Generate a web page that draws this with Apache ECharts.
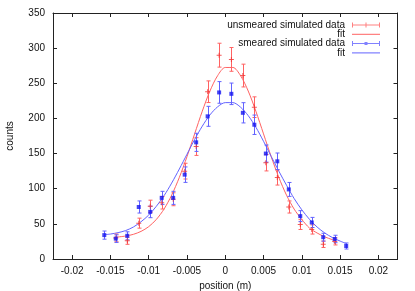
<!DOCTYPE html>
<html>
<head>
<meta charset="utf-8">
<script src="https://cdn.jsdelivr.net/npm/echarts@6/dist/echarts.min.js"></script>
<style>
html,body{margin:0;padding:0;background:#fff;}
#chart{width:415px;height:291px;}
</style>
</head>
<body>
<div id="chart"></div>
<script>
// ---- data ----
var xTicks = [-0.02, -0.015, -0.01, -0.005, 0, 0.005, 0.01, 0.015, 0.02];

var unsmearedX = [-0.0143, -0.0128, -0.0113, -0.0098, -0.0083, -0.0068, -0.0053, -0.0038, -0.0023, -0.0008,
                  0.0008, 0.0023, 0.0038, 0.0053, 0.0068, 0.0083, 0.0098, 0.0113, 0.0128, 0.0143];
var unsmearedY = [30, 26, 51, 75, 80, 85, 125, 160, 238, 290,
                  284, 261, 216, 137, 116, 74, 49, 42, 21, 25];
var unsmearedErr = [5.5, 5.1, 7.1, 8.7, 8.9, 9.2, 11.2, 12.6, 15.4, 17,
                    16.9, 16.2, 14.7, 11.7, 10.8, 8.6, 7, 6.5, 4.6, 5];

var smearedX = [-0.0158, -0.0143, -0.0128, -0.0113, -0.0098, -0.0083, -0.0068, -0.0053, -0.0038, -0.0023, -0.0008,
                0.0008, 0.0023, 0.0038, 0.0053, 0.0068, 0.0083, 0.0098, 0.0113, 0.0128, 0.0143, 0.0158];
var smearedY = [34, 29, 33, 74, 67, 87, 87, 120, 166, 203, 237,
                235, 208, 191, 150, 139, 99, 61, 52, 31, 28.5, 18.5];
var smearedErr = [5.8, 5.4, 5.7, 8.6, 8.2, 9.3, 9.3, 11, 12.9, 14.2, 15.4,
                  15.3, 14.4, 13.8, 12.2, 11.8, 9.9, 7.8, 7.2, 5.6, 5.3, 4.3];

var redFitX = [-0.0143, -0.013, -0.012, -0.011, -0.01, -0.009, -0.008, -0.007, -0.006, -0.005, -0.004, -0.003, -0.002, -0.001,
               0, 0.001, 0.002, 0.003, 0.004, 0.005, 0.006, 0.007, 0.008, 0.009, 0.01, 0.011, 0.012, 0.013, 0.014, 0.0143];
var redFitY = [31, 32.7, 35.1, 39.3, 46, 56.3, 71, 90.9, 116, 145.6, 178, 210.3, 239, 260.8,
               272.5, 272.5, 260.8, 239, 210.3, 178, 145.6, 116, 90.9, 71, 56.3, 44, 37, 31.5, 27.5, 26.5];

var blueFitX = [-0.0158, -0.015, -0.014, -0.013, -0.012, -0.011, -0.01, -0.009, -0.008, -0.007, -0.006, -0.005, -0.004, -0.003, -0.002, -0.001,
                0, 0.001, 0.002, 0.003, 0.004, 0.005, 0.006, 0.007, 0.008, 0.009, 0.01, 0.011, 0.012, 0.013, 0.014, 0.015, 0.0158];
var blueFitY = [34.5, 35.5, 37.5, 40.5, 45.5, 53, 62.5, 75, 90, 108, 128, 149, 170, 189, 205, 216.5,
                222.5, 222.5, 216, 204, 187.5, 167.5, 146, 125, 105, 86, 70, 56.5, 45.5, 37, 30.5, 25.5, 22];

var legendNames = ['unsmeared simulated data', 'fit', 'smeared simulated data', 'fit\u200B'];

// ---- build ----
function zip3(a, b, c) { return a.map(function (v, i) { return c ? [v, b[i], c[i]] : [v, b[i]]; }); }

var RED = '#ff6262', BLUE = '#6262ff', BLUE_MK = '#1414f0', RED_MK = '#f03030';

function errRender(color) {
  return function (params, api) {
    var x = api.value(0), y = api.value(1), e = api.value(2);
    var top = api.coord([x, y + e]);
    var bot = api.coord([x, y - e]);
    var cx = Math.round(top[0]) + 0.5;
    var ty = top[1], by = bot[1], w = 2;
    var st = { stroke: color, lineWidth: 1 };
    return {
      type: 'group',
      children: [
        { type: 'line', shape: { x1: cx, y1: ty, x2: cx, y2: by }, style: st },
        { type: 'line', shape: { x1: cx - w, y1: ty, x2: cx + w, y2: ty }, style: st },
        { type: 'line', shape: { x1: cx - w, y1: by, x2: cx + w, y2: by }, style: st }
      ]
    };
  };
}

var font = 'Liberation Sans, Arial, sans-serif';
var axisLineStyle = { color: '#222', width: 1 };

var iconDataRed = 'path://M0,2L0,2M0,7L0,7M0,4h28v1h-28z M0,2h1v5h-1z M27,2h1v5h-1z M13.5,2h1v5h-1z';
var iconDataBlue = 'path://M0,2L0,2M0,7L0,7M0,4h28v1h-28z M0,2h1v5h-1z M27,2h1v5h-1z M12.5,3h3v3h-3z';
var iconFit = 'path://M0,2L0,2M0,7L0,7M0,4h28v1h-28z';

var chart = echarts.init(document.getElementById('chart'), null, { renderer: 'canvas' });
chart.setOption({
  animation: false,
  backgroundColor: '#fff',
  textStyle: { fontFamily: font },
  grid: { left: 53, right: 17.5, top: 13, bottom: 32, containLabel: false, outerBoundsMode: 'none' },
  legend: {
    orient: 'vertical',
    right: 30,
    top: 15,
    align: 'right',
    itemWidth: 28,
    itemHeight: 5,
    itemGap: -0.7,
    selectedMode: false,
    textStyle: { fontFamily: font, fontSize: 10, color: '#111', lineHeight: 10, padding: [0, 2, 0, 0] },
    data: [
      { name: legendNames[0], icon: iconDataRed, itemStyle: { color: RED } },
      { name: legendNames[1], icon: iconFit, itemStyle: { color: RED } },
      { name: legendNames[2], icon: iconDataBlue, itemStyle: { color: BLUE } },
      { name: legendNames[3], icon: iconFit, itemStyle: { color: BLUE } }
    ]
  },
  xAxis: [{
    type: 'value', min: -0.0225, max: 0.0225, position: 'bottom',
    name: 'position (m)', nameLocation: 'middle', nameGap: 20,
    nameTextStyle: { fontFamily: font, fontSize: 10, color: '#111' },
    axisLine: { show: true, onZero: false, lineStyle: axisLineStyle },
    axisTick: { show: true, inside: true, length: 4, customValues: xTicks, lineStyle: axisLineStyle },
    axisLabel: { show: true, customValues: xTicks, margin: 7, fontFamily: font, fontSize: 10, color: '#111',
      formatter: function (v) { return String(+v.toFixed(4)); } },
    splitLine: { show: false }
  }, {
    type: 'value', min: -0.0225, max: 0.0225, position: 'top',
    axisLine: { show: true, onZero: false, lineStyle: axisLineStyle },
    axisTick: { show: true, inside: true, length: 4, customValues: xTicks, lineStyle: axisLineStyle },
    axisLabel: { show: false },
    splitLine: { show: false }
  }],
  yAxis: [{
    type: 'value', min: 0, max: 350, interval: 50, position: 'left',
    name: 'counts', nameLocation: 'middle', nameGap: 38,
    nameTextStyle: { fontFamily: font, fontSize: 10, color: '#111' },
    axisLine: { show: true, onZero: false, lineStyle: axisLineStyle },
    axisTick: { show: true, inside: true, length: 4, lineStyle: axisLineStyle },
    axisLabel: { show: true, margin: 8, fontFamily: font, fontSize: 10, color: '#111' },
    splitLine: { show: false }
  }, {
    type: 'value', min: 0, max: 350, interval: 50, position: 'right',
    axisLine: { show: true, onZero: false, lineStyle: axisLineStyle },
    axisTick: { show: true, inside: true, length: 4, lineStyle: axisLineStyle },
    axisLabel: { show: false },
    splitLine: { show: false }
  }],
  series: [
    {
      type: 'custom', name: '_errRed', renderItem: errRender(RED),
      data: zip3(unsmearedX, unsmearedY, unsmearedErr), encode: { x: 0, y: 1 }, z: 3, silent: true
    },
    {
      type: 'scatter', name: legendNames[0], data: zip3(unsmearedX, unsmearedY),
      symbol: 'path://M2,0h1v5h-1z M0,2h5v1h-5z', symbolSize: 5,
      itemStyle: { color: RED_MK }, z: 4
    },
    {
      type: 'line', name: legendNames[1], data: zip3(redFitX, redFitY),
      showSymbol: false, smooth: 0.3, lineStyle: { color: RED, width: 1 }, itemStyle: { color: RED }, z: 2
    },
    {
      type: 'custom', name: '_errBlue', renderItem: errRender(BLUE),
      data: zip3(smearedX, smearedY, smearedErr), encode: { x: 0, y: 1 }, z: 3, silent: true
    },
    {
      type: 'scatter', name: legendNames[2], data: zip3(smearedX, smearedY),
      symbol: 'rect', symbolSize: 4,
      itemStyle: { color: BLUE_MK }, z: 4
    },
    {
      type: 'line', name: legendNames[3], data: zip3(blueFitX, blueFitY),
      showSymbol: false, smooth: 0.3, lineStyle: { color: BLUE, width: 1 }, itemStyle: { color: BLUE }, z: 2
    }
  ]
});
</script>
</body>
</html>
